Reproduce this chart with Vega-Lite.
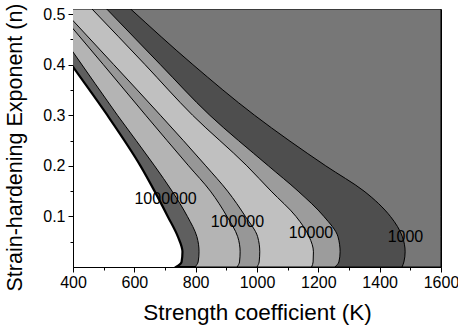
{
  "$schema": "https://vega.github.io/schema/vega-lite/v6.json",
  "width": 368,
  "height": 258,
  "autosize": "none",
  "padding": {"left": 73, "top": 9, "right": 17, "bottom": 58},
  "config": {
    "view": {"stroke": "black", "strokeWidth": 1},
    "font": "Liberation Sans",
    "axis": {"grid": false, "domainColor": "black", "tickColor": "black", "labelColor": "black", "titleColor": "black", "labelFont": "Liberation Sans", "titleFont": "Liberation Sans", "titleFontWeight": "normal", "labelFontSize": 16, "titleFontSize": 21, "zindex": 1, "labelOverlap": false, "labelFlush": false}
  },
  "datasets": {
    "curves": [
      {"c": 1, "K": 266, "n": 0.51}, {"c": 1, "K": 400, "n": 0.3955}, {"c": 1, "K": 512, "n": 0.3}, {"c": 1, "K": 620, "n": 0.2}, {"c": 1, "K": 666, "n": 0.15}, {"c": 1, "K": 709, "n": 0.1}, {"c": 1, "K": 742, "n": 0.06}, {"c": 1, "K": 757, "n": 0.03}, {"c": 1, "K": 754, "n": 0.01}, {"c": 1, "K": 736, "n": 0},
      {"c": 2, "K": 301, "n": 0.51}, {"c": 2, "K": 400, "n": 0.425}, {"c": 2, "K": 545, "n": 0.3}, {"c": 2, "K": 666, "n": 0.2}, {"c": 2, "K": 723, "n": 0.15}, {"c": 2, "K": 773, "n": 0.1}, {"c": 2, "K": 804, "n": 0.06}, {"c": 2, "K": 811, "n": 0.03}, {"c": 2, "K": 808, "n": 0.01}, {"c": 2, "K": 798, "n": 0},
      {"c": 3, "K": 346, "n": 0.51}, {"c": 3, "K": 400, "n": 0.471}, {"c": 3, "K": 499, "n": 0.4}, {"c": 3, "K": 637, "n": 0.3}, {"c": 3, "K": 777, "n": 0.2}, {"c": 3, "K": 848, "n": 0.15}, {"c": 3, "K": 902, "n": 0.1}, {"c": 3, "K": 937, "n": 0.06}, {"c": 3, "K": 945, "n": 0.03}, {"c": 3, "K": 943, "n": 0.01}, {"c": 3, "K": 935, "n": 0},
      {"c": 4, "K": 365, "n": 0.51}, {"c": 4, "K": 400, "n": 0.487}, {"c": 4, "K": 533, "n": 0.4}, {"c": 4, "K": 685, "n": 0.3}, {"c": 4, "K": 833, "n": 0.2}, {"c": 4, "K": 904, "n": 0.15}, {"c": 4, "K": 962, "n": 0.1}, {"c": 4, "K": 1002, "n": 0.06}, {"c": 4, "K": 1009, "n": 0.03}, {"c": 4, "K": 1007, "n": 0.01}, {"c": 4, "K": 1000, "n": 0},
      {"c": 5, "K": 462, "n": 0.51}, {"c": 5, "K": 635, "n": 0.4}, {"c": 5, "K": 790, "n": 0.3}, {"c": 5, "K": 967, "n": 0.2}, {"c": 5, "K": 1046, "n": 0.15}, {"c": 5, "K": 1127, "n": 0.1}, {"c": 5, "K": 1170, "n": 0.06}, {"c": 5, "K": 1184, "n": 0.03}, {"c": 5, "K": 1183, "n": 0.01}, {"c": 5, "K": 1178, "n": 0},
      {"c": 6, "K": 510, "n": 0.51}, {"c": 6, "K": 685, "n": 0.4}, {"c": 6, "K": 846, "n": 0.3}, {"c": 6, "K": 1037, "n": 0.2}, {"c": 6, "K": 1134, "n": 0.15}, {"c": 6, "K": 1218, "n": 0.1}, {"c": 6, "K": 1264, "n": 0.06}, {"c": 6, "K": 1271, "n": 0.03}, {"c": 6, "K": 1267, "n": 0.01}, {"c": 6, "K": 1254, "n": 0},
      {"c": 7, "K": 588, "n": 0.51}, {"c": 7, "K": 791, "n": 0.4}, {"c": 7, "K": 992, "n": 0.3}, {"c": 7, "K": 1224, "n": 0.2}, {"c": 7, "K": 1349, "n": 0.15}, {"c": 7, "K": 1435, "n": 0.1}, {"c": 7, "K": 1474, "n": 0.06}, {"c": 7, "K": 1483, "n": 0.03}, {"c": 7, "K": 1479, "n": 0.01}, {"c": 7, "K": 1473, "n": 0}
    ],
    "labels": [
      {"label": "1000000", "K": 702, "n": 0.134},
      {"label": "100000", "K": 936, "n": 0.088},
      {"label": "10000", "K": 1176, "n": 0.067},
      {"label": "1000", "K": 1484, "n": 0.059}
    ]
  },
  "encoding": {
    "x": {"field": "K", "type": "quantitative", "scale": {"domain": [400, 1600], "nice": false, "zero": false},
      "axis": {"values": [400, 500, 600, 700, 800, 900, 1000, 1100, 1200, 1300, 1400, 1500, 1600], "format": "d", "labelExpr": "datum.value % 200 == 0 ? datum.label : ''", "tickSize": {"condition": {"test": "datum.value % 200 == 0", "value": 5}, "value": 3}, "labelPadding": 2, "title": "Strength coefficient (K)", "titleFontSize": 22.5, "titleY": 34}},
    "y": {"field": "n", "type": "quantitative", "scale": {"domain": [0, 0.51], "nice": false, "zero": false},
      "axis": {"values": [0.05, 0.1, 0.15, 0.2, 0.25, 0.3, 0.35, 0.4, 0.45, 0.5], "format": ".1f", "labelExpr": "round(datum.value * 100) % 10 == 0 ? datum.label : ''", "tickSize": {"condition": {"test": "round(datum.value * 100) % 10 == 0", "value": 5}, "value": 3}, "labelPadding": 3, "title": "Strain-hardening Exponent (n)", "titleFontSize": 21.5, "titleX": -47, "titleY": 138}}
  },
  "layer": [
    {"data": {"name": "curves"}, "transform": [{"filter": "datum.c == 1"}], "mark": {"type": "area", "orient": "horizontal", "interpolate": "monotone", "clip": true, "fill": "#5f5f5f", "stroke": "black", "strokeWidth": 2.2}, "encoding": {"x2": {"datum": 1600}}},
    {"data": {"name": "curves"}, "transform": [{"filter": "datum.c == 2"}], "mark": {"type": "area", "orient": "horizontal", "interpolate": "monotone", "clip": true, "fill": "#b4b4b4", "stroke": "black", "strokeWidth": 1}, "encoding": {"x2": {"datum": 1600}}},
    {"data": {"name": "curves"}, "transform": [{"filter": "datum.c == 3"}], "mark": {"type": "area", "orient": "horizontal", "interpolate": "monotone", "clip": true, "fill": "#979797", "stroke": "black", "strokeWidth": 1}, "encoding": {"x2": {"datum": 1600}}},
    {"data": {"name": "curves"}, "transform": [{"filter": "datum.c == 4"}], "mark": {"type": "area", "orient": "horizontal", "interpolate": "monotone", "clip": true, "fill": "#c0c0c0", "stroke": "black", "strokeWidth": 1}, "encoding": {"x2": {"datum": 1600}}},
    {"data": {"name": "curves"}, "transform": [{"filter": "datum.c == 5"}], "mark": {"type": "area", "orient": "horizontal", "interpolate": "monotone", "clip": true, "fill": "#9c9c9c", "stroke": "black", "strokeWidth": 1}, "encoding": {"x2": {"datum": 1600}}},
    {"data": {"name": "curves"}, "transform": [{"filter": "datum.c == 6"}], "mark": {"type": "area", "orient": "horizontal", "interpolate": "monotone", "clip": true, "fill": "#4e4e4e", "stroke": "black", "strokeWidth": 1}, "encoding": {"x2": {"datum": 1600}}},
    {"data": {"name": "curves"}, "transform": [{"filter": "datum.c == 7"}], "mark": {"type": "area", "orient": "horizontal", "interpolate": "monotone", "clip": true, "fill": "#777777", "stroke": "black", "strokeWidth": 1}, "encoding": {"x2": {"datum": 1600}}},
    {"data": {"name": "labels"}, "mark": {"type": "text", "fontSize": 16, "font": "Liberation Sans", "color": "black", "align": "center", "baseline": "middle"}, "encoding": {"text": {"field": "label"}}}
  ]
}
